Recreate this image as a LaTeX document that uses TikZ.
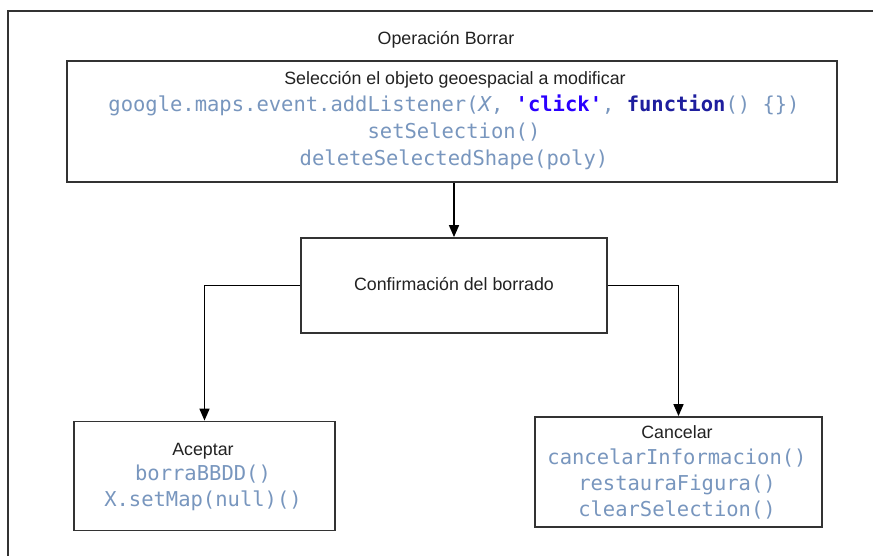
\documentclass[tikz,border=0pt]{standalone}
\usepackage{fontspec}
\setmainfont{Liberation Sans}
\newfontfamily\codefont{DejaVu Sans Mono}
\usetikzlibrary{arrows.meta}
\definecolor{codeblue}{HTML}{7896BE}
\definecolor{strblue}{HTML}{2A00FF}
\definecolor{kwblue}{HTML}{1E1E9E}
\definecolor{framegray}{HTML}{333333}
\definecolor{textgray}{HTML}{222222}
\newcommand{\sq}{\char39\relax}
\begin{document}
\begin{tikzpicture}[x=1pt,y=-1pt,
  box/.style={draw=framegray, line width=1.8pt, inner sep=0pt},
  lbl/.style={font=\fontsize{17.8}{20}\selectfont, text=textgray, inner sep=0pt,
    text height=12.7pt, text depth=0pt, anchor=center},
  code/.style={font=\codefont\fontsize{20.5}{24}\selectfont, text=codeblue, inner sep=0pt,
    text height=14.9pt, text depth=0pt, anchor=center},
  link/.style={draw=black, line width=1.6pt, -{Triangle[length=12pt,width=10pt]}}
]
\useasboundingbox (0,0) rectangle (873,556);
\fill[white] (0,0) rectangle (873,556);

% outer frame, running off the right and bottom edges
\begin{scope}
  \clip (0,0) rectangle (873,556);
  \draw[framegray, line width=1.6pt] (8,570) -- (8,11) -- (890,11);
\end{scope}

\node[lbl] (title) at (446,38) {Operación Borrar};

% boxes
\node[box, minimum width=770pt, minimum height=121pt] (sel) at (452,121.5) {};
\node[box, minimum width=306pt, minimum height=95pt] (conf) at (454,285.5) {};
\node[box, minimum width=261pt, minimum height=109pt] (acc) at (204.5,476) {};
\node[box, minimum width=287pt, minimum height=110pt] (canc) at (678.5,472) {};

% selection box text
\node[lbl] (selt) at (455,78) {Selección el objeto geoespacial a modificar};
\node[code] (selc1) at (454,104) {google.maps.event.addListener(\textit{X}, \textcolor{strblue}{\textbf{\sq click\sq}}, \textcolor{kwblue}{\textbf{function}}() \{\})};
\node[code] (selc2) at (454,131) {setSelection()};
\node[code] (selc3) at (454,158) {deleteSelectedShape(poly)};

% confirmation box text
\node[lbl] (conft) at (454,284) {Confirmación del borrado};

% accept box text
\node[lbl] (acct) at (203,449) {Aceptar};
\node[code] (accc1) at (203,473) {borraBBDD()};
\node[code] (accc2) at (203,499) {X.setMap(null)()};

% cancel box text
\node[lbl] (canct) at (677,432) {Cancelar};
\node[code] (cancc1) at (677,457) {cancelarInformacion()};
\node[code] (cancc2) at (677,483) {restauraFigura()};
\node[code] (cancc3) at (677,509) {clearSelection()};

% connectors
\draw[link] (conf.north |- sel.south) -- (conf.north);
\draw[link] (conf.west) -| (acc.north);
\draw[link] (conf.east) -| (canc.north);
\end{tikzpicture}
\end{document}
